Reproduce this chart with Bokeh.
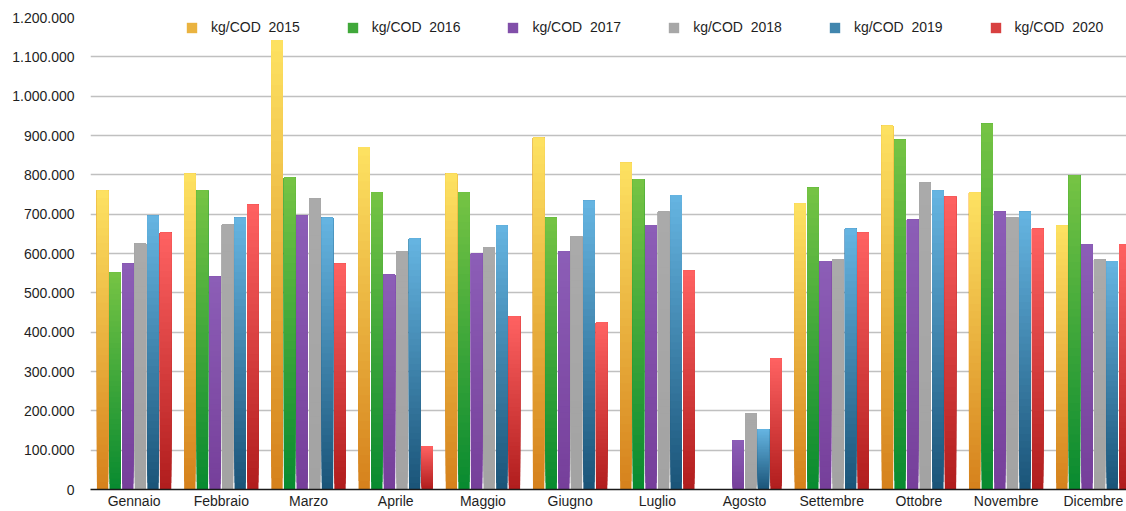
from bokeh.plotting import figure
from bokeh.models import (ColumnDataSource, Range1d, FixedTicker, Legend, LegendItem)
from bokeh.embed import file_html
from bokeh.resources import INLINE

months = ["Gennaio", "Febbraio", "Marzo", "Aprile", "Maggio", "Giugno",
          "Luglio", "Agosto", "Settembre", "Ottobre", "Novembre", "Dicembre"]
years = ["2015", "2016", "2017", "2018", "2019", "2020"]

v2015 = [760000, 803000, 1143000, 871000, 803000, 894000, 831000, 0, 727000, 925000, 755000, 671000]
v2016 = [552000, 760000, 793000, 755000, 755000, 691000, 788000, 0, 767000, 889000, 930000, 798000]
v2017 = [574000, 541000, 696000, 546000, 600000, 605000, 671000, 125000, 580000, 686000, 706000, 623000]
v2018 = [625000, 673000, 739000, 605000, 615000, 643000, 706000, 194000, 585000, 780000, 691000, 585000]
v2019 = [696000, 691000, 691000, 638000, 671000, 734000, 749000, 153000, 663000, 760000, 706000, 580000]
v2020 = [653000, 724000, 574000, 110000, 440000, 425000, 557000, 333000, 653000, 744000, 663000, 623000]
series = [v2015, v2016, v2017, v2018, v2019, v2020]

legend_labels = ["kg/COD  2015", "kg/COD  2016", "kg/COD  2017",
                 "kg/COD  2018", "kg/COD  2019", "kg/COD  2020"]

y_ticks = [0, 100000, 200000, 300000, 400000, 500000, 600000,
           700000, 800000, 900000, 1000000, 1100000, 1200000]
y_tick_labels = ["0", "100.000", "200.000", "300.000", "400.000", "500.000", "600.000",
                 "700.000", "800.000", "900.000", "1.000.000", "1.100.000", "1.200.000"]

# gradient (bottom colour, top colour) per series
grad_colors = [("#d5811c", "#fee262"), ("#088a30", "#76c444"), ("#763f9a", "#8c5eb7"),
               ("#a3a3a3", "#aaaaaa"), ("#1a5478", "#66b5e2"), ("#b01d1d", "#ff6262")]

FONT = "Liberation Sans"
N_SEG = 40
SLOT = 0.1445
BAR_W = 0.13


def hex2rgb(h):
    h = h.lstrip("#")
    return tuple(int(h[i:i + 2], 16) for i in (0, 2, 4))


def mix(c0, c1, t):
    a, b = hex2rgb(c0), hex2rgb(c1)
    return "#%02x%02x%02x" % tuple(int(round(a[i] + (b[i] - a[i]) * t)) for i in range(3))


p = figure(width=1126, height=511, output_backend="svg", toolbar_location=None,
           x_range=Range1d(-0.5, 11.38), y_range=Range1d(0, 1200000),
           min_border_left=90, min_border_right=0, min_border_top=17, min_border_bottom=22)
p.outline_line_color = None
p.background_fill_color = "white"
p.border_fill_color = "white"

items = []
for si, vals in enumerate(series):
    off = (si - 2.5) * SLOT
    xs, bots, tops, cols = [], [], [], []
    c_bot, c_top = grad_colors[si]
    for mi, v in enumerate(vals):
        if v <= 0:
            continue
        for k in range(N_SEG):
            xs.append(mi + off)
            bots.append(v * k / N_SEG)
            tops.append(v)
            cols.append(mix(c_bot, c_top, (k + 0.5) / N_SEG))
    src = ColumnDataSource(dict(x=xs, bottom=bots, top=tops, color=cols))
    r = p.vbar(x="x", bottom="bottom", top="top", width=BAR_W, source=src,
               fill_color="color", line_color=None)
    items.append(LegendItem(label=legend_labels[si], renderers=[r], index=N_SEG // 2))

# axes
p.xaxis.ticker = FixedTicker(ticks=list(range(len(months))))
p.xaxis.major_label_overrides = {i: m for i, m in enumerate(months)}
p.xaxis.axis_line_color = "#1a1a1a"
p.xaxis.axis_line_width = 1.5
p.xaxis.major_tick_line_color = None
p.xaxis.minor_tick_line_color = None
p.xaxis.major_tick_out = 0
p.xaxis.major_tick_in = 0
p.xaxis.minor_tick_out = 0
p.xaxis.major_label_standoff = 3
p.xaxis.major_label_text_font = FONT
p.xaxis.major_label_text_font_size = "14px"
p.xaxis.major_label_text_color = "#1e1e1e"

p.yaxis.ticker = FixedTicker(ticks=y_ticks)
p.yaxis.major_label_overrides = dict(zip(y_ticks, y_tick_labels))
p.yaxis.axis_line_color = None
p.yaxis.major_tick_line_color = None
p.yaxis.minor_tick_line_color = None
p.yaxis.major_tick_out = 0
p.yaxis.major_tick_in = 0
p.yaxis.minor_tick_out = 0
p.yaxis.major_label_standoff = 16
p.yaxis.major_label_text_font = FONT
p.yaxis.major_label_text_font_size = "14px"
p.yaxis.major_label_text_color = "#1e1e1e"

p.xgrid.grid_line_color = None
p.ygrid.grid_line_color = "#c0c0c0"
p.ygrid.grid_line_width = 1.5

legend = Legend(items=items, orientation="horizontal", location=(95, 452),
                padding=0, margin=0, spacing=46, label_standoff=13,
                glyph_width=13, glyph_height=13, label_height=20,
                border_line_color=None, background_fill_alpha=0,
                label_text_font=FONT, label_text_font_size="14px",
                label_text_color="#1e1e1e")
p.add_layout(legend)

open("out.html", "w").write(file_html(p, INLINE))
